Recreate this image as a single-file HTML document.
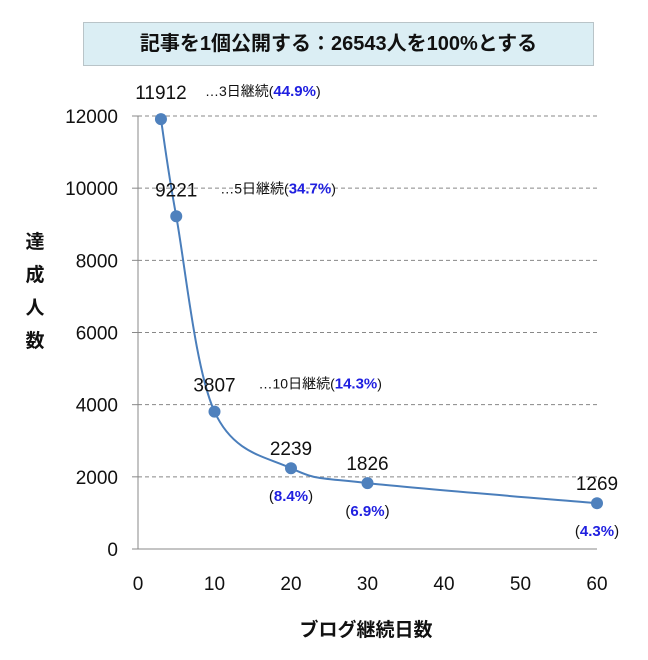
<!DOCTYPE html>
<html><head><meta charset="utf-8">
<style>
body{margin:0;background:#fff;width:648px;height:660px;overflow:hidden;font-family:"Liberation Sans","Noto Sans CJK JP",sans-serif}
#title{position:absolute;left:83px;top:22px;width:509px;height:42px;background:#dbeef4;border:1px solid #b9c4c8;text-align:center;line-height:42px;font-size:20px;font-weight:bold;color:#111}
svg{position:absolute;left:0;top:0}
</style></head><body>
<div id="title">記事を1個公開する：26543人を100%とする</div>
<svg id="chart" width="648" height="660"></svg>
<script>
const days=[3,5,10,20,30,60];
const counts=[11912,9221,3807,2239,1826,1269];
const pcts=["44.9%","34.7%","14.3%","8.4%","6.9%","4.3%"];
const xTicks=[0,10,20,30,40,50,60];
const yTicks=[0,2000,4000,6000,8000,10000,12000];
const NS="http://www.w3.org/2000/svg";
const svg=document.getElementById('chart');
const X=v=>138+v*(597-138)/60;
const Y=v=>549-v*(549-116)/12000;
function el(t,a,txt){const e=document.createElementNS(NS,t);for(const k in a)e.setAttribute(k,a[k]);if(txt!==undefined)e.textContent=txt;svg.appendChild(e);return e;}
yTicks.forEach(t=>{
  if(t>0){const g=el('line',{x1:138,x2:597,y1:Y(t),y2:Y(t),stroke:'#888','stroke-dasharray':'4,3'});
  
  }
  el('line',{x1:132,x2:138,y1:Y(t),y2:Y(t),stroke:'#888'});
  const l=el('text',{x:118,y:Y(t)+7,'text-anchor':'end','font-size':19,fill:'#111'},t);
  
  
});
el('line',{x1:138,x2:138,y1:116,y2:549,stroke:'#888'});
el('line',{x1:138,x2:597,y1:549,y2:549,stroke:'#888'});
xTicks.forEach(t=>{
  const l=el('text',{x:X(t),y:590,'text-anchor':'middle','font-size':19,fill:'#111'},t);
  
  
});
const P=days.map((d,i)=>[X(d),Y(counts[i])]);
let d='M'+P[0][0]+','+P[0][1];
for(let i=0;i<P.length-1;i++){
  const p0=P[Math.max(0,i-1)],p1=P[i],p2=P[i+1],p3=P[Math.min(P.length-1,i+2)];
  const k=1/6;
  d+=` C${p1[0]+(p2[0]-p0[0])*k},${p1[1]+(p2[1]-p0[1])*k} ${p2[0]-(p3[0]-p1[0])*k},${p2[1]-(p3[1]-p1[1])*k} ${p2[0]},${p2[1]}`;
}
const line=el('path',{d:d,fill:'none',stroke:'#4a7ebb','stroke-width':2});


P.forEach((p,i)=>{
  const c=el('circle',{cx:p[0],cy:p[1],r:6,fill:'#4f81bd'});
  
  
  const above=i<3;
  const lbl=el('text',{x:p[0],y:above?p[1]-20:p[1]-13,'text-anchor':'middle','font-size':19,fill:'#111'},counts[i]);
  
  
  if(above){
    const t=el('text',{x:p[0]+44,y:p[1]-23,'font-size':14,fill:'#111'});
    t.innerHTML='…'+days[i]+'日継続(<tspan fill="#1f1fe0" font-weight="bold" font-size="15">'+pcts[i]+'</tspan>)';
    
    
  }else{
    const t=el('text',{x:p[0],y:p[1]+33,'text-anchor':'middle','font-size':15,fill:'#111'});
    t.innerHTML='(<tspan fill="#1f1fe0" font-weight="bold">'+pcts[i]+'</tspan>)';
    
    
  }
});
const yt=el('text',{x:35,y:0,'font-size':19,'font-weight':'bold',fill:'#111','text-anchor':'middle'});
['達','成','人','数'].forEach((ch,i)=>{const s=document.createElementNS(NS,'tspan');s.setAttribute('x',35);s.setAttribute('y',248+i*33);s.textContent=ch;yt.appendChild(s);});


const xt=el('text',{x:366,y:636,'font-size':19,'font-weight':'bold',fill:'#111','text-anchor':'middle'},'ブログ継続日数');


</script>
</body></html>
